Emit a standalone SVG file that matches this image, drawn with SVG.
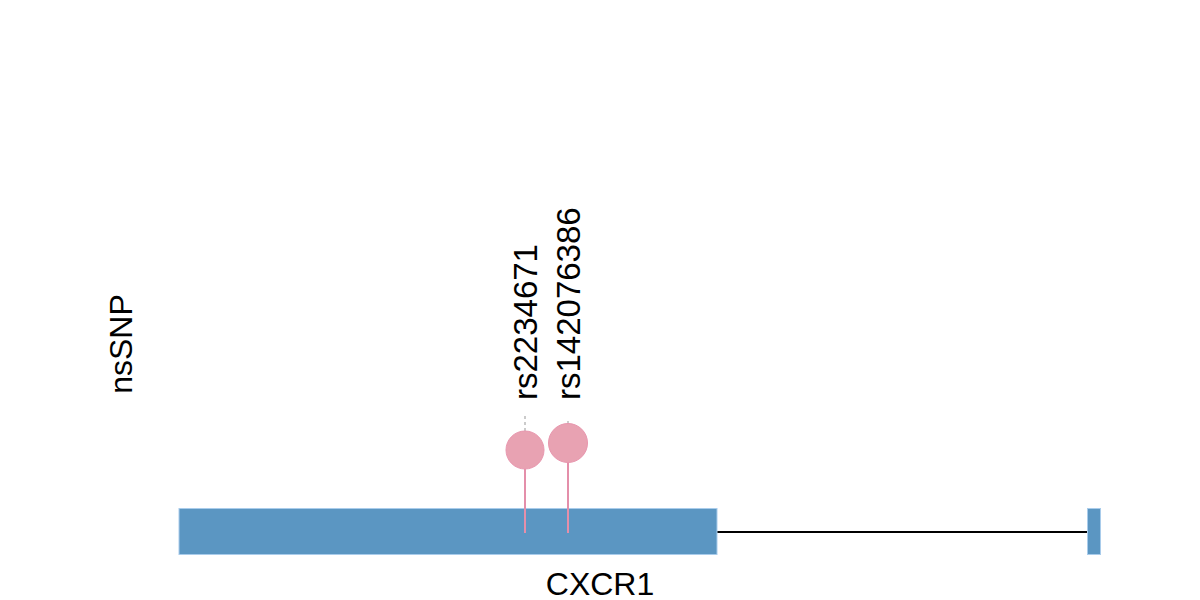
<svg xmlns="http://www.w3.org/2000/svg" width="1200" height="600" viewBox="0 0 1200 600">
<style>
.t{font-family:"Liberation Sans",Arial,sans-serif;font-size:32px;fill:#000}
.r{font-size:33px}
.exon{fill:#5B96C2;stroke:#A9CCEB;stroke-width:1}
.stem{stroke:#E48FAA;stroke-width:2}
.dot{fill:#E8A2B2;stroke:#E896AE;stroke-width:1}
.tick{stroke:#BBBBBB;stroke-width:1.5;stroke-dasharray:3,3}
</style>
<rect width="1200" height="600" fill="#fff"/>
<g id="connectors">
<line x1="717" y1="532" x2="1087" y2="532" stroke="#000" stroke-width="2"/>
</g>
<g id="exon1"><rect class="exon" x="179" y="508.5" width="538" height="46"/></g>
<g id="exon2"><rect class="exon" x="1087.5" y="508.5" width="13" height="46"/></g>
<g id="snp1">
<line class="tick" x1="525" y1="416" x2="525" y2="431"/>
<line class="stem" x1="525" y1="469" x2="525" y2="533"/>
<circle class="dot" cx="525" cy="450" r="19"/>
<text class="t r" transform="translate(537,400) rotate(-90)">rs2234671</text>
</g>
<g id="snp2">
<line class="tick" x1="568" y1="421" x2="568" y2="424"/>
<line class="stem" x1="568" y1="462" x2="568" y2="533"/>
<circle class="dot" cx="568" cy="443" r="19.5"/>
<text class="t r" transform="translate(580,400) rotate(-90)">rs142076386</text>
</g>
<g id="track-label"><text class="t" text-anchor="middle" transform="translate(132,344) rotate(-90)">nsSNP</text></g>
<g id="gene-label"><text class="t" x="600" y="595" text-anchor="middle">CXCR1</text></g>
</svg>
